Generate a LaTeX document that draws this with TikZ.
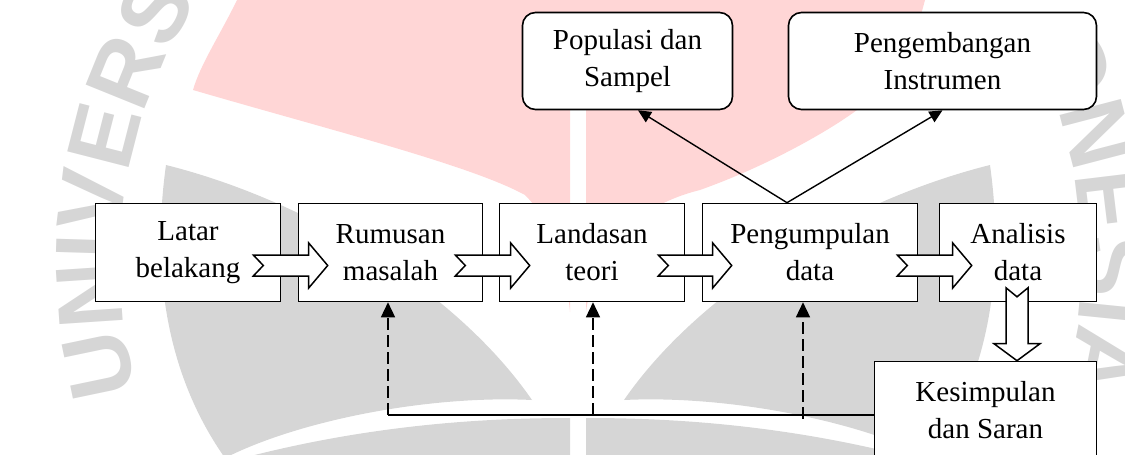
\documentclass[tikz,border=0pt]{standalone}
\usepackage{fontspec}
\setmainfont{Liberation Serif}
\newfontfamily\wmfont{Liberation Sans}
\usetikzlibrary{arrows.meta,calc,decorations.text}
\definecolor{wmgrey}{HTML}{D6D6D6}
\definecolor{wmpink}{HTML}{FFD6D6}
\newcommand\mainfs{\fontsize{29}{37}\selectfont}
\newcommand\harr[2]{\draw[barrow] let \p1=(#1), \p2=(#2) in
  (\x1,\y1+10.5pt) -- (\x2-19pt,\y1+10.5pt) -- (\x2-19pt,\y1+22.5pt) -- (\x2,\y1)
  -- (\x2-19pt,\y1-22.5pt) -- (\x2-19pt,\y1-10.5pt) -- (\x1,\y1-10.5pt) -- (\x1+10pt,\y1) -- cycle;}
\newcommand\varr[2]{\draw[barrow] let \p1=(#1), \p2=(#2) in
  (\x1-11pt,\y1) -- (\x1-11pt,\y2+17pt) -- (\x1-23pt,\y2+17pt) -- (\x1,\y2)
  -- (\x1+23pt,\y2+17pt) -- (\x1+11pt,\y2+17pt) -- (\x1+11pt,\y1) -- (\x1,\y1-9pt) -- cycle;}
\begin{document}
\begin{tikzpicture}[x=1pt,y=-1pt,
  box/.style={draw, line width=1.6pt, fill=white, align=center, inner sep=0pt, font=\mainfs},
  rbox/.style={box, rounded corners=13pt},
  barrow/.style={draw, line width=1.5pt, fill=white, line join=miter},
  conn/.style={line width=1.4pt, -{Triangle[length=13pt,width=12pt]}},
  dasharr/.style={line width=1.5pt, dash pattern=on 12pt off 5pt, -{Triangle[length=15pt,width=14pt]}},
  fbline/.style={line width=1.5pt},
  wmtext/.style={decorate, decoration={text along path, text color=wmgrey, text align=left,
    text={|\wmfont\bfseries\fontsize{92}{92}\selectfont|#1}}}]
\useasboundingbox (0,0) rectangle (1125,455);
\clip (0,0) rectangle (1125,455);
% ---------------- watermark ----------------
\fill[wmpink] (237,0) .. controls (220,35) and (200,65) .. (193,90)
  .. controls (330,130) and (470,165) .. (525,195)
  .. controls (555,225) and (566,270) .. (570,312) -- (570,100) -- (578,88) -- (586,100) -- (586,312)
  .. controls (592,265) and (620,210) .. (700,190)
  .. controls (770,165) and (830,130) .. (857,110)
  .. controls (895,80) and (915,40) .. (925,0) -- cycle;
\fill[wmgrey] (166,165) .. controls (306,200) and (456,290) .. (532,400)
  .. controls (430,395) and (300,420) .. (225,458)
  .. controls (170,380) and (150,280) .. (166,165) -- cycle;
\fill[wmgrey] (990,165) .. controls (850,200) and (700,290) .. (624,400)
  .. controls (726,395) and (856,420) .. (931,458)
  .. controls (986,380) and (1006,280) .. (990,165) -- cycle;
\fill[wmgrey] (200,470) .. controls (350,425) and (480,418) .. (570,418) -- (570,470) -- cycle;
\fill[wmgrey] (586,418) .. controls (676,418) and (806,425) .. (956,470) -- (586,470) -- cycle;
\begin{scope}[shift={(596,262)}, y=1pt]
  \path[wmtext={UNIVERS}] (195.8:476) arc[start angle=195.8, end angle=120, radius=476];
\end{scope}
\begin{scope}[shift={(606,262)}, y=1pt]
  \path[wmtext={ONESIA}] (27.2:476) arc[start angle=27.2, end angle=-60, radius=476];
\end{scope}
% ---------------- boxes ----------------
\node[box, minimum width=185pt, minimum height=98pt] (latar) at (188,252.5) {Latar\\belakang};
\node[box, minimum width=184pt, minimum height=98pt] (rumusan) at (390.5,252.5) {Rumusan\\masalah};
\node[box, minimum width=185pt, minimum height=98pt] (landasan) at (592,252.5) {Landasan\\teori};
\node[box, minimum width=215pt, minimum height=98pt] (pengumpulan) at (810,252.5) {Pengumpulan\\data};
\node[box, minimum width=157pt, minimum height=98pt] (analisis) at (1018,252.5) {Analisis\\data};
\node[box, minimum width=222pt, minimum height=98pt] (kesimpulan) at (985.5,410.5) {Kesimpulan\\dan Saran};
\node[rbox, minimum width=210pt, minimum height=97pt] (populasi) at (627.5,61) {Populasi dan\\Sampel};
\node[rbox, minimum width=308pt, minimum height=97pt] (pengembangan) at (942.5,61) {Pengembangan\\Instrumen};
% ---------------- block arrows ----------------
\coordinate (t1) at ($(latar.east)+(-28,13)$);      \coordinate (h1) at ($(rumusan.west)+(30,13)$);
\coordinate (t2) at ($(rumusan.east)+(-28,13)$);    \coordinate (h2) at ($(landasan.west)+(31,13)$);
\coordinate (t3) at ($(landasan.east)+(-27,13)$);   \coordinate (h3) at ($(pengumpulan.west)+(30,13)$);
\coordinate (t4) at ($(pengumpulan.east)+(-21,13)$);\coordinate (h4) at ($(analisis.west)+(33,13)$);
\coordinate (t5) at ($(analisis.south)+(-1,-14.5)$);\coordinate (h5) at (t5 |- kesimpulan.north);
\harr{t1}{h1}
\harr{t2}{h2}
\harr{t3}{h3}
\harr{t4}{h4}
\varr{t5}{h5}
% ---------------- connectors to top boxes ----------------
\coordinate (split) at ($(pengumpulan.north)+(-23,0)$);
\draw[conn] (split) -- ($(populasi.south)+(10.5,0)$);
\draw[conn] (split) -- (pengembangan.south);
% ---------------- feedback lines ----------------
\coordinate (fb1) at ($(rumusan.south)+(-2.5,112.5)$);
\coordinate (fb2) at ($(landasan.south |- fb1)+(1,0)$);
\coordinate (fb3) at ($(pengumpulan.south |- fb1)+(-7,0)$);
\draw[fbline] (kesimpulan.west |- fb1) -- (fb1);
\draw[dasharr] (fb1) -- (fb1 |- rumusan.south);
\draw[dasharr] (fb2) -- (fb2 |- landasan.south);
\draw[dasharr] ($(fb3)+(0,4)$) -- (fb3 |- pengumpulan.south);
\end{tikzpicture}
\end{document}
